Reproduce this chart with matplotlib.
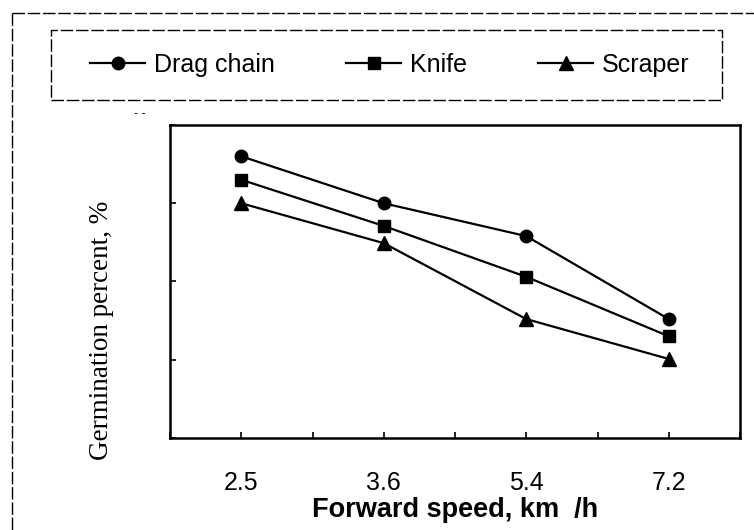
import matplotlib
matplotlib.use("Agg")
import matplotlib.pyplot as plt
from matplotlib.lines import Line2D
from matplotlib.patches import Rectangle

categories = ["2.5", "3.6", "5.4", "7.2"]
series_names = ["Drag chain", "Knife", "Scraper"]
drag_chain = [96.0, 90.0, 85.8, 75.2]
knife = [93.0, 87.1, 80.6, 73.0]
scraper = [90.0, 84.9, 75.2, 70.1]
markers = ["o", "s", "^"]

W, H = 754, 530
fig = plt.figure(figsize=(W / 100, H / 100), dpi=100)

def fx(px):
    return px / W

def fy(py):
    return 1 - py / H

ax_l, ax_r, ax_t, ax_b = 170, 740, 125, 438
ax = fig.add_axes([fx(ax_l), fy(ax_b), fx(ax_r - ax_l), (ax_b - ax_t) / H])

x = list(range(len(categories)))
handles = []
for vals, m, name in zip([drag_chain, knife, scraper], markers, series_names):
    ms = 9 if m == "o" else (8.5 if m == "s" else 9.5)
    h, = ax.plot(x, vals, color="black", lw=1.6, marker=m, ms=ms,
                 markerfacecolor="black", markeredgecolor="black", label=name)
    handles.append(h)

ax.set_xlim(-0.5, 3.5)
ax.set_ylim(60, 100)
ax.set_xticks(x)
ax.set_xticklabels(categories, fontsize=18, family="Liberation Sans")
ax.set_xticks([-0.5 + 0.5 * i for i in range(9)], minor=True)
ax.tick_params(axis="x", which="both", direction="in", length=4, width=1.2, pad=24)
ax.set_yticks([60, 70, 80, 90, 100])
ax.set_yticklabels([])
ax.tick_params(axis="y", direction="in", length=4, width=1.2)
for s in ax.spines.values():
    s.set_linewidth(1.8)

ax.set_xlabel("Forward speed, km  /h", fontsize=19.5, fontweight="bold",
              family="Liberation Sans")
ax.xaxis.set_label_coords(0.5, (ax_b - 497) / (ax_b - ax_t))
fig.text(fx(102), fy(330), "Germination percent, %", rotation=90,
         ha="center", va="center", fontsize=19.5, family="Liberation Serif")

# legend box and legend
fig.patches.append(Rectangle((fx(51), fy(100)), fx(722 - 51), (100 - 30) / H,
                             transform=fig.transFigure, fill=False,
                             edgecolor="black", lw=1.0, linestyle=(0, (9, 2))))
leg = fig.legend(handles=handles, loc="center", bbox_to_anchor=(fx(390), fy(65)),
                 ncol=3, frameon=False, handlelength=2.2,
                 handletextpad=0.35, columnspacing=2.85,
                 prop={"family": "Liberation Sans", "size": 18})

# outer frame (top and left edges of scanned figure)
fig.lines.append(Line2D([fx(12), 1.0], [fy(13), fy(13)], transform=fig.transFigure,
                        color="black", lw=1.0, linestyle=(0, (9, 2))))
fig.lines.append(Line2D([fx(12), fx(12)], [fy(13), 0.0], transform=fig.transFigure,
                        color="black", lw=1.0, linestyle=(0, (9, 2))))
fig.text(fx(140), fy(114), "- -", ha="center", va="center", fontsize=9,
         family="Liberation Sans")

fig.savefig("out.png", dpi=100)
